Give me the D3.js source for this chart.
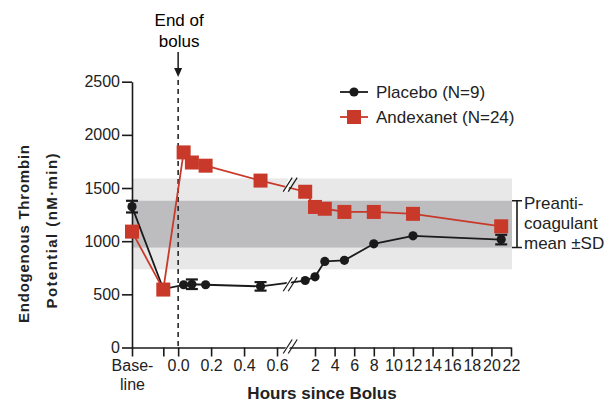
<!DOCTYPE html>
<html>
<head>
<meta charset="utf-8">
<script src="https://cdn.jsdelivr.net/npm/d3@7"></script>
<style>
  body { margin: 0; background: #fff; }
  svg { font-family: "Liberation Sans", Arial, sans-serif; }
</style>
</head>
<body>
<div id="chart"></div>
<script>
// time axis in hours from end of bolus; the two pre-bolus samples sit left of 0
var times = [-0.28, -0.09, 2/60, 5/60, 10/60, 0.5, 1, 2, 3, 5, 8, 12, 21];
var placebo = [1325, 550, 590, 595, 590, 575, 630, 665, 810, 820, 975, 1050, 1015];
var placeboErr = [55, 0, 0, 45, 0, 40, 0, 0, 0, 0, 0, 0, 45];
var andexanet = [1090, 545, 1835, 1740, 1710, 1570, 1465, 1322, 1305, 1275, 1275, 1257, 1140];

var xTicks = [-0.28, -0.09, 0, 0.2, 0.4, 0.6, 2, 4, 6, 8, 10, 12, 14, 16, 18, 20, 22];
var xTickLabels = ["Base-|line", "", "0.0", "0.2", "0.4", "0.6", "2", "4", "6", "8", "10", "12", "14", "16", "18", "20", "22"];
var yTicks = [0, 500, 1000, 1500, 2000, 2500];

var refOuter = [735, 1590];   // light band
var refInner = [940, 1380];   // mean +- SD
var breakHour = 0.68;

var red = "#c9392a", black = "#1a1a1a";

var width = 605, height = 406;
var svg = d3.select('#chart').append('svg')
    .attr('width', width)
    .attr('height', height);

// broken time axis: fast segment up to the break, slow segment after it
var xScale = d3.scaleLinear()
    .domain([-0.28, 0.7, 1, 22])
    .range([132, 293.5, 305.2, 511]);

var yScale = d3.scaleLinear()
    .domain([0, 2500])
    .range([347.5, 81.7]);

var x0 = xScale.range()[0], x1 = xScale.range()[3];

// reference bands
svg.append('rect')
    .attr('x', x0).attr('width', x1 - x0 + 1)
    .attr('y', yScale(refOuter[1]))
    .attr('height', yScale(refOuter[0]) - yScale(refOuter[1]))
    .attr('fill', '#e8e8e8');
svg.append('rect')
    .attr('x', x0).attr('width', x1 - x0 + 1)
    .attr('y', yScale(refInner[1]))
    .attr('height', yScale(refInner[0]) - yScale(refInner[1]))
    .attr('fill', '#bdbdc0');

// end of bolus marker
svg.append('line')
    .attr('x1', xScale(0)).attr('x2', xScale(0))
    .attr('y1', 80).attr('y2', yScale(0))
    .attr('stroke', black).attr('stroke-width', 1.5)
    .attr('stroke-dasharray', '5,4');
svg.append('line')
    .attr('x1', xScale(0)).attr('x2', xScale(0))
    .attr('y1', 52).attr('y2', 70)
    .attr('stroke', black).attr('stroke-width', 1.5);
svg.append('path')
    .attr('d', 'M' + (xScale(0) - 4) + ',68 L' + (xScale(0) + 4) + ',68 L' + xScale(0) + ',77 Z')
    .attr('fill', black);
svg.append('text')
    .attr('x', xScale(0) + 1).attr('y', 26)
    .attr('text-anchor', 'middle')
    .style('font-size', '17px')
    .text('End of');
svg.append('text')
    .attr('x', xScale(0) + 1).attr('y', 47)
    .attr('text-anchor', 'middle')
    .style('font-size', '17px')
    .text('bolus');

// axes
var yAxis = svg.append('g')
    .attr('transform', 'translate(' + x0 + ',0)')
    .call(d3.axisLeft(yScale).tickValues(yTicks).tickSize(10).tickSizeOuter(0).tickPadding(2).tickFormat(d3.format('d')));

var xAxis = svg.append('g')
    .attr('transform', 'translate(0,' + yScale(0) + ')')
    .call(d3.axisBottom(xScale).tickValues(xTicks).tickSize(9).tickSizeOuter(0).tickPadding(3)
      .tickFormat(function(d, i) { return xTickLabels[i]; }));

svg.selectAll('.domain, .tick line')
    .attr('stroke', black).attr('stroke-width', 1.6);
svg.selectAll('.tick text')
    .attr('fill', '#222')
    .style('font-size', '16px')
    .style('font-family', '"Liberation Sans", Arial, sans-serif');

// two-line "Base-/line" label
xAxis.selectAll('.tick text').each(function(d, i) {
  var lab = xTickLabels[i];
  if (lab.indexOf('|') < 0) return;
  var parts = lab.split('|');
  var t = d3.select(this).text(null);
  t.append('tspan').attr('x', 0).text(parts[0]);
  t.append('tspan').attr('x', 0).attr('dy', '1.2em').text(parts[1]);
});

// break glyph "//"
function breakMark(cx, cy) {
  var g = svg.append('g').attr('transform', 'translate(' + cx + ',' + cy + ')');
  g.append('path')
    .attr('d', 'M-7,7 L-1,-7 L3,-7 L-3,7 Z')
    .attr('fill', '#fff');
  [-2.5, 2.5].forEach(function(d) {
    g.append('line')
      .attr('x1', d - 4.5).attr('y1', 7)
      .attr('x2', d + 4.5).attr('y2', -7)
      .attr('stroke', black).attr('stroke-width', 1.2);
  });
}

var line = d3.line()
    .x(function(d) { return xScale(d.t); })
    .y(function(d) { return yScale(d.v); });

function series(vals, errs, color, shape) {
  var data = times.map(function(t, i) { return { t: t, v: vals[i], e: errs ? errs[i] : 0 }; });
  svg.append('path')
    .datum(data)
    .attr('d', line)
    .attr('fill', 'none')
    .attr('stroke', color)
    .attr('stroke-width', 1.8);

  // error bars
  var eb = svg.append('g').selectAll('g')
    .data(data.filter(function(d) { return d.e > 0; }))
    .enter().append('g')
    .attr('stroke', color).attr('stroke-width', 2.2);
  eb.append('line')
    .attr('x1', function(d) { return xScale(d.t); })
    .attr('x2', function(d) { return xScale(d.t); })
    .attr('y1', function(d) { return yScale(d.v + d.e); })
    .attr('y2', function(d) { return yScale(d.v - d.e); });
  [1, -1].forEach(function(s) {
    eb.append('line')
      .attr('x1', function(d) { return xScale(d.t) - 6; })
      .attr('x2', function(d) { return xScale(d.t) + 6; })
      .attr('y1', function(d) { return yScale(d.v + s * d.e); })
      .attr('y2', function(d) { return yScale(d.v + s * d.e); });
  });

  if (shape === 'circle') {
    svg.append('g').selectAll('circle')
      .data(data).enter().append('circle')
      .attr('cx', function(d) { return xScale(d.t); })
      .attr('cy', function(d) { return yScale(d.v); })
      .attr('r', 4.6)
      .attr('fill', color);
  } else {
    svg.append('g').selectAll('rect')
      .data(data).enter().append('rect')
      .attr('x', function(d) { return xScale(d.t) - 7; })
      .attr('y', function(d) { return yScale(d.v) - 7; })
      .attr('width', 14).attr('height', 14)
      .attr('fill', color);
  }

  // break on the data line between 0.5 h and 1 h
  var a = data[5], b = data[6];
  var f = (breakHour - a.t) / (b.t - a.t);
  breakMark(xScale(breakHour), yScale(a.v + f * (b.v - a.v)));
}

series(placebo, placeboErr, black, 'circle');
series(andexanet, null, red, 'square');
breakMark(xScale(breakHour), yScale(0) - 1);

// legend
var legend = [
  { name: 'Placebo (N=9)', color: black, shape: 'circle', y: 92 },
  { name: 'Andexanet (N=24)', color: red, shape: 'square', y: 117 }
];
var lg = svg.append('g').selectAll('g')
  .data(legend).enter().append('g')
  .attr('transform', function(d) { return 'translate(340,' + d.y + ')'; });
lg.append('line')
  .attr('x1', 0).attr('x2', 28)
  .attr('stroke', function(d) { return d.color; })
  .attr('stroke-width', 1.8);
lg.filter(function(d) { return d.shape === 'circle'; }).append('circle')
  .attr('cx', 14).attr('r', 4.6).attr('fill', function(d) { return d.color; });
lg.filter(function(d) { return d.shape === 'square'; }).append('rect')
  .attr('x', 7).attr('y', -7).attr('width', 14).attr('height', 14)
  .attr('fill', function(d) { return d.color; });
lg.append('text')
  .attr('x', 36).attr('y', 6)
  .style('font-size', '17px')
  .attr('fill', '#222')
  .text(function(d) { return d.name; });

// reference bracket
var bx = 517;
svg.append('path')
  .attr('d', 'M' + (bx - 5) + ',' + yScale(refInner[1]) + 'H' + (bx + 5) +
             'M' + bx + ',' + yScale(refInner[1]) + 'V' + yScale(refInner[0]) +
             'M' + (bx - 5) + ',' + yScale(refInner[0]) + 'H' + (bx + 5))
  .attr('stroke', black).attr('stroke-width', 1.6).attr('fill', 'none');
['Preanti-', 'coagulant', 'mean \u00b1SD'].forEach(function(s, i) {
  svg.append('text')
    .attr('x', 524).attr('y', 209 + i * 20)
    .style('font-size', '17px')
    .attr('fill', '#222')
    .text(s);
});

// axis titles
svg.append('text')
  .attr('x', 322).attr('y', 399)
  .attr('text-anchor', 'middle')
  .style('font-size', '17px').style('font-weight', 'bold')
  .attr('fill', '#222')
  .text('Hours since Bolus');

svg.append('text')
  .attr('transform', 'translate(29,234) rotate(-90)')
  .attr('text-anchor', 'middle')
  .attr('textLength', 178).attr('lengthAdjust', 'spacing')
  .style('font-size', '15px').style('font-weight', 'bold')
  .attr('fill', '#222')
  .text('Endogenous Thrombin');
svg.append('text')
  .attr('transform', 'translate(57,231) rotate(-90)')
  .attr('text-anchor', 'middle')
  .attr('textLength', 155).attr('lengthAdjust', 'spacing')
  .style('font-size', '15px').style('font-weight', 'bold')
  .attr('fill', '#222')
  .text('Potential (nM\u00b7min)');
</script>
</body>
</html>
